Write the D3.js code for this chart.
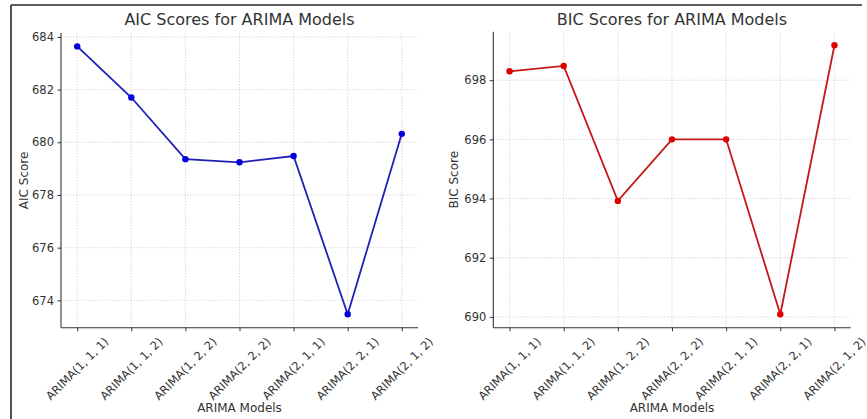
<!DOCTYPE html>
<html>
<head>
<meta charset="utf-8">
<script src="https://cdn.jsdelivr.net/npm/d3@7"></script>
<style>
  html, body { margin: 0; padding: 0; background: #fff; }
  svg { display: block; }
  text { font-family: "DejaVu Sans", sans-serif; fill: #333; }
</style>
</head>
<body>
<svg id="chart" width="867" height="419"></svg>
<script>
// Candidate ARIMA orders, shared by both panels
const models = ["ARIMA(1, 1, 1)", "ARIMA(1, 1, 2)", "ARIMA(1, 2, 2)", "ARIMA(2, 2, 2)",
                "ARIMA(2, 1, 1)", "ARIMA(2, 2, 1)", "ARIMA(2, 1, 2)"];
// Information criteria per model
const aicScores = [683.64, 681.70, 679.36, 679.24, 679.48, 673.47, 680.32];
const bicScores = [698.30, 698.48, 693.92, 696.00, 696.00, 690.09, 699.18];
// Y tick values for each panel
const aicTicks = [674, 676, 678, 680, 682, 684];
const bicTicks = [690, 692, 694, 696, 698];

const svg = d3.select("#chart");

// Frame lines along the top and left edge
svg.append("line").attr("x1", 11).attr("x2", 862).attr("y1", 5).attr("y2", 5)
  .attr("stroke", "#2a2a22").attr("stroke-width", 1.6);
svg.append("line").attr("x1", 11).attr("x2", 11).attr("y1", 5).attr("y2", 419)
  .attr("stroke", "#2a2a22").attr("stroke-width", 1.6);

function panel(opts) {
  const { left, right, top, bottom, values, ticks, title, ylabel, ylabelX, line, marker } = opts;
  const g = svg.append("g");

  // matplotlib-style 5% padding on both axes
  const n = models.length;
  const padX = (n - 1) * 0.05;
  const x = d3.scaleLinear().domain([-padX, n - 1 + padX]).range([left, right]);
  const [lo, hi] = d3.extent(values);
  const padY = (hi - lo) * 0.05;
  const y = d3.scaleLinear().domain([lo - padY, hi + padY]).range([bottom, top]);

  // Dotted grid
  g.append("g").selectAll("line").data(d3.range(n)).join("line")
    .attr("x1", i => x(i)).attr("x2", i => x(i)).attr("y1", top).attr("y2", bottom)
    .attr("stroke", "#d0d0d0").attr("stroke-width", 0.8).attr("stroke-dasharray", "1.5,1.5");
  g.append("g").selectAll("line").data(ticks).join("line")
    .attr("x1", left).attr("x2", right).attr("y1", d => y(d)).attr("y2", d => y(d))
    .attr("stroke", "#d0d0d0").attr("stroke-width", 0.8).attr("stroke-dasharray", "1.5,1.5");

  // Y axis
  const yAxis = g.append("g").attr("transform", `translate(${left},0)`)
    .call(d3.axisLeft(y).tickValues(ticks).tickSize(3.5).tickPadding(3.5).tickFormat(d3.format("d")));
  yAxis.select(".domain").attr("d", `M0,${top}V${bottom}`).attr("stroke", "#333").attr("stroke-width", 1.1);
  yAxis.selectAll(".tick line").attr("stroke", "#333");
  yAxis.selectAll(".tick text").attr("font-size", 11.5).attr("fill", "#333")
    .attr("font-family", "DejaVu Sans, sans-serif");

  // X axis
  const xAxis = g.append("g").attr("transform", `translate(0,${bottom})`)
    .call(d3.axisBottom(x).tickValues(d3.range(n)).tickSize(3.5).tickFormat(() => ""));
  xAxis.select(".domain").attr("d", `M${left},0H${right}`).attr("stroke", "#333").attr("stroke-width", 1.1);
  xAxis.selectAll(".tick line").attr("stroke", "#333");

  // Rotated category labels, centred under each tick
  const fs = 11.5;
  g.append("g").selectAll("text").data(models).join("text")
    .attr("font-size", fs).attr("text-anchor", "middle").attr("dominant-baseline", "central")
    .text(d => d)
    .attr("transform", function (d, i) {
      const L = this.getComputedTextLength();
      const H = fs * 1.17;
      const half = (L + H) * Math.SQRT1_2 / 2;
      return `translate(${x(i)},${bottom + 7 + half}) rotate(-45)`;
    });

  // Line and markers
  g.append("path").datum(values)
    .attr("d", d3.line().x((d, i) => x(i)).y(d => y(d)))
    .attr("fill", "none").attr("stroke", line).attr("stroke-width", 1.8);
  g.append("g").selectAll("circle").data(values).join("circle")
    .attr("cx", (d, i) => x(i)).attr("cy", d => y(d)).attr("r", 3.2).attr("fill", marker);

  // Titles
  g.append("text").attr("x", (left + right) / 2).attr("y", 25).attr("text-anchor", "middle")
    .attr("font-size", 16).attr("fill", "#333").text(title);
  g.append("text").attr("x", (left + right) / 2).attr("y", 412).attr("text-anchor", "middle")
    .attr("font-size", 12).text("ARIMA Models");
  g.append("text").attr("transform", `translate(${ylabelX},${(top + bottom) / 2}) rotate(-90)`)
    .attr("text-anchor", "middle").attr("font-size", 12).text(ylabel);
}

panel({ left: 61, right: 418, top: 33, bottom: 327.7, values: aicScores, ticks: aicTicks,
        title: "AIC Scores for ARIMA Models", ylabel: "AIC Score", ylabelX: 28,
        line: "#2020b8", marker: "#0000e0" });
panel({ left: 493.3, right: 850.7, top: 31.8, bottom: 327.7, values: bicScores, ticks: bicTicks,
        title: "BIC Scores for ARIMA Models", ylabel: "BIC Score", ylabelX: 458,
        line: "#c41818", marker: "#e00000" });
</script>
</body>
</html>
